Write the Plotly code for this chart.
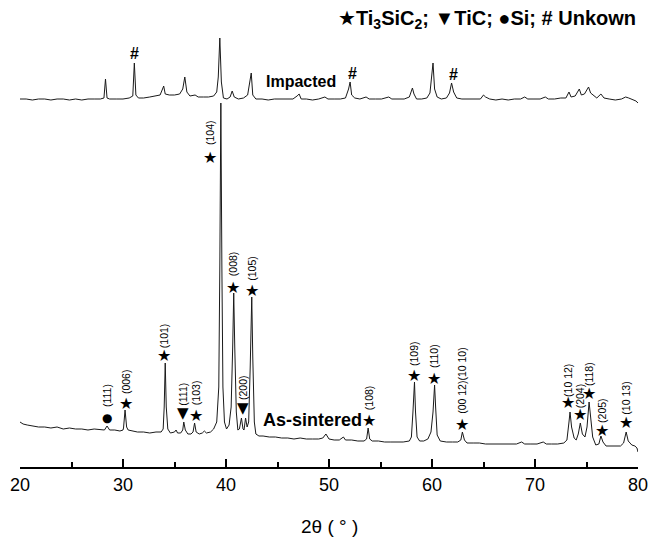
import plotly.graph_objects as go

# ---- As-sintered XRD trace (2theta in degrees, intensity in a.u.) ----
as_sintered_2theta = [
    20.0, 20.3, 20.7, 21.2, 21.8, 22.4, 23.0, 23.6, 24.2, 24.8, 25.4, 26.0, 26.6, 27.2, 27.8,
    28.2, 28.45, 28.7, 29.2, 29.7, 30.0,
    30.05, 30.2, 30.35, 30.5, 30.9, 31.4, 32.0, 32.6, 33.2, 33.7,
    33.9, 34.0, 34.1, 34.2, 34.35, 34.6, 35.0, 35.15, 35.3, 35.6,
    35.8, 35.9, 36.05, 36.3, 36.6, 36.8, 36.95, 37.1, 37.4, 37.7, 37.9, 38.1, 38.5, 38.8,
    39.1, 39.3, 39.4, 39.5, 39.6, 39.7, 39.85, 40.05,
    40.3, 40.5, 40.65, 40.75, 40.85, 41.0, 41.15, 41.3,
    41.5, 41.65, 41.75, 41.9, 42.05, 42.2, 42.35, 42.5, 42.6, 42.75, 42.9, 43.2,
    43.6, 44.2, 44.8, 45.4, 46.0, 46.6, 47.2, 47.8, 48.4, 49.0, 49.4, 49.7, 50.0, 50.5, 51.0,
    51.4, 51.6, 52.2, 52.8, 53.4, 53.65, 53.8, 53.95, 54.2, 54.8, 55.4, 56.0, 56.6, 57.2, 57.8,
    58.0, 58.15, 58.3, 58.4, 58.55, 58.8, 59.2, 59.6, 59.9, 60.1, 60.25, 60.35, 60.5, 60.8,
    61.4, 62.0, 62.5, 62.8, 62.95, 63.15, 63.4, 64.0, 64.6, 65.2, 65.8, 66.4, 67.0, 67.6,
    68.2, 68.7, 69.0, 69.6, 70.2, 70.8, 71.1, 71.6, 72.2, 72.8, 73.1,
    73.3, 73.4, 73.55, 73.8, 74.0, 74.2, 74.4, 74.6, 74.85, 75.05, 75.25, 75.4, 75.6, 75.9,
    76.2, 76.4, 76.6, 76.9, 77.3, 77.8, 78.3, 78.6, 78.85, 79.05, 79.4, 79.7, 79.9, 80.0,
]
as_sintered_intensity = [
    45, 43, 42, 41, 40, 40, 39, 40, 38, 39, 38, 38, 37, 38, 37,
    37, 41, 37, 37, 36, 37,
    39, 57, 40, 37, 36, 35, 35, 34, 35, 35,
    38, 60, 104, 60, 38, 34, 35, 37, 34, 34,
    37, 45, 37, 33, 33, 35, 44, 35, 33, 34, 36, 34, 35, 38,
    45, 80, 200, 364, 200, 80, 45, 38,
    42, 60, 120, 174, 120, 55, 37, 38,
    49, 38, 37, 49, 40, 45, 100, 170, 110, 45, 33, 31,
    31, 30, 30, 29, 29, 28, 29, 28, 28, 28, 29, 33, 28, 27, 27,
    30, 27, 27, 26, 26, 28, 39, 28, 26, 26, 25, 25, 25, 25, 26,
    30, 55, 85, 55, 30, 26, 26, 28, 35, 55, 82, 60, 32, 26,
    25, 25, 25, 27, 35, 27, 24, 24, 24, 23, 23, 23, 23, 23,
    23, 25, 23, 23, 23, 25, 23, 23, 23, 24, 27,
    45, 55, 40, 29, 27, 33, 44, 33, 30, 40, 65, 50, 30, 22,
    23, 31, 25, 21, 21, 21, 21, 24, 35, 26, 22, 21, 19, 15,
]

# ---- Impacted XRD trace (already offset upward, a.u.) ----
impacted_2theta = [
    20.0, 20.6, 21.2, 21.8, 22.4, 23.0, 23.6, 24.2, 24.8, 25.4, 26.0, 26.6, 27.2, 27.8,
    28.15, 28.3, 28.45, 28.7, 29.4, 30.0, 30.6, 30.95, 31.1, 31.25, 31.5, 32.0, 32.6, 33.2,
    33.6, 33.8, 33.95, 34.1, 34.5, 35.0, 35.5, 35.8, 36.0, 36.2, 36.5, 37.0, 37.3, 37.8,
    38.3, 38.8, 39.1, 39.25, 39.4, 39.55, 39.75, 40.1, 40.4, 40.6, 40.8, 41.2, 41.7, 42.1,
    42.3, 42.45, 42.6, 42.9, 43.5, 44.1, 44.7, 45.3, 45.9, 46.5, 46.9, 47.1, 47.3, 47.8,
    48.4, 49.0, 49.6, 49.9, 50.5, 51.1, 51.6, 51.9, 52.05, 52.2, 52.5, 53.0, 53.6, 53.9,
    54.5, 55.1, 55.8, 56.1, 56.7, 57.3, 57.8, 58.1, 58.25, 58.5, 59.0, 59.5, 59.8, 60.0,
    60.1, 60.25, 60.5, 60.9, 61.4, 61.7, 61.9, 62.1, 62.4, 62.9, 63.5, 64.1, 64.7, 65.0,
    65.2, 65.6, 66.2, 66.8, 67.4, 68.0, 68.6, 69.0, 69.3, 69.9, 70.5, 71.0, 71.3, 71.9,
    72.5, 73.0, 73.3, 73.5, 73.9, 74.3, 74.5, 74.8, 75.2, 75.4, 75.7, 76.0, 76.4, 76.7,
    77.2, 77.8, 78.4, 78.8, 79.1, 79.5, 79.8, 80.0,
]
impacted_intensity = [
    368, 368, 367, 368, 368, 367, 368, 368, 367, 368, 367, 368, 368, 368,
    369, 388, 369, 368, 368, 368, 369, 371, 404, 372, 369, 369, 370, 371,
    372, 377, 381, 373, 372, 372, 373, 378, 390, 375, 371, 372, 370, 370,
    370, 371, 375, 390, 429, 385, 369, 368, 370, 376, 370, 368, 369, 372,
    385, 394, 372, 368, 368, 367, 368, 368, 368, 368, 371, 373, 368, 368,
    367, 368, 370, 368, 368, 368, 369, 378, 385, 372, 369, 368, 370, 368,
    368, 368, 370, 368, 368, 368, 370, 379, 373, 368, 368, 369, 374, 395,
    404, 378, 370, 368, 369, 374, 384, 375, 369, 368, 368, 368, 368, 372,
    370, 368, 367, 368, 367, 368, 368, 370, 368, 368, 368, 370, 368, 368,
    369, 369, 375, 370, 371, 378, 372, 373, 380, 374, 371, 369, 373, 369,
    368, 367, 368, 370, 369, 367, 366, 364,
]

# ---- Peak annotations on the as-sintered trace ----
peak_2theta = [28.45, 30.3, 34.0, 35.8, 37.1, 38.45, 40.7, 42.5, 41.65, 53.9, 58.25, 60.2,
               62.9, 73.2, 74.4, 75.25, 76.5, 78.8]
peak_symbol = ["●", "★", "★", "▼", "★", "★", "★", "★", "▼", "★", "★", "★",
               "★", "★", "★", "★", "★", "★"]
symbol_y = [49, 64, 112, 54, 52, 310, 180, 177, 59, 47, 92, 89, 43, 65, 53, 74, 37, 45]
peak_hkl = ["(111)", "(006)", "(101)", "(111)", "(103)", "(104)", "(008)", "(105)", "(200)",
            "(108)", "(109)", "(110)", "(00 12)(10 10)", "(10 12)", "(204)", "(118)", "(205)",
            "(10 13)"]
hkl_y = [71, 85, 131, 73, 74, 334, 203, 199, 79, 69, 114, 111, 87, 87, 71, 93, 57, 69]

# ---- Unknown peaks on the impacted trace ----
unknown_2theta = [31.15, 52.3, 62.04]
unknown_y = [414, 394, 393]

x_ticks = [20, 30, 40, 50, 60, 70, 80]

FONT = "Liberation Sans, Arial, DejaVu Sans, sans-serif"
SYMF = "DejaVu Sans, Liberation Sans, sans-serif"

fig = go.Figure()
fig.add_trace(go.Scatter(x=impacted_2theta, y=impacted_intensity, mode="lines",
                         line=dict(color="#1a1a1a", width=1), showlegend=False))
fig.add_trace(go.Scatter(x=as_sintered_2theta, y=as_sintered_intensity, mode="lines",
                         line=dict(color="#1a1a1a", width=1), showlegend=False))

ann = []
sym_size = {"★": 16, "▼": 15, "●": 12}
for x, s, sy, lab, ly in zip(peak_2theta, peak_symbol, symbol_y, peak_hkl, hkl_y):
    ann.append(dict(x=x, y=sy, xref="x", yref="y", text=s, showarrow=False,
                    font=dict(family=SYMF, size=sym_size[s], color="black"),
                    xanchor="center", yanchor="middle"))
    ann.append(dict(x=x, y=ly, xref="x", yref="y", text=lab, showarrow=False, textangle=-90,
                    font=dict(family=FONT, size=10.5, color="black"),
                    xanchor="center", yanchor="middle"))
for x, y in zip(unknown_2theta, unknown_y):
    ann.append(dict(x=x, y=y, xref="x", yref="y", text="<b>#</b>", showarrow=False,
                    font=dict(family=FONT, size=16, color="black"),
                    xanchor="center", yanchor="middle"))

ann.append(dict(x=47.3, y=386, xref="x", yref="y", text="<b>Impacted</b>", showarrow=False,
                font=dict(family=FONT, size=16, color="black"), xanchor="center", yanchor="middle"))
ann.append(dict(x=48.35, y=47, xref="x", yref="y", text="<b>As-sintered</b>", showarrow=False,
                font=dict(family=FONT, size=18, color="black"), xanchor="center", yanchor="middle"))
ann.append(dict(x=0.512, y=0.958, xref="paper", yref="paper",
                text="<b>★Ti<sub>3</sub>SiC<sub>2</sub>; ▼TiC; ●Si; # Unkown</b>",
                showarrow=False, font=dict(family=FONT, size=20, color="black"),
                xanchor="left", yanchor="middle"))
ann.append(dict(x=0.5, y=-0.128, xref="paper", yref="paper", text="2θ ( ° )", showarrow=False,
                font=dict(family=FONT, size=19, color="black"), xanchor="center", yanchor="middle"))

fig.update_layout(
    width=648, height=541,
    margin=dict(l=20, r=10, t=0, b=74),
    paper_bgcolor="white", plot_bgcolor="white",
    annotations=ann,
    xaxis=dict(range=[20, 80], tickvals=x_ticks, ticktext=[str(t) for t in x_ticks],
               showline=True, linecolor="black", linewidth=2, ticks="inside", ticklen=8,
               tickwidth=2, tickcolor="black", showgrid=False, zeroline=False,
               ticklabeloverflow="allow",
               tickfont=dict(family=FONT, size=18, color="black"),
               minor=dict(dtick=5, tick0=20, ticks="inside", ticklen=5, tickwidth=2,
                          tickcolor="black", showgrid=False)),
    yaxis=dict(range=[0, 467], visible=False, showgrid=False, zeroline=False),
)

fig.write_html("out.html", config={"displayModeBar": False},
               post_script="document.body.style.margin='0';")
